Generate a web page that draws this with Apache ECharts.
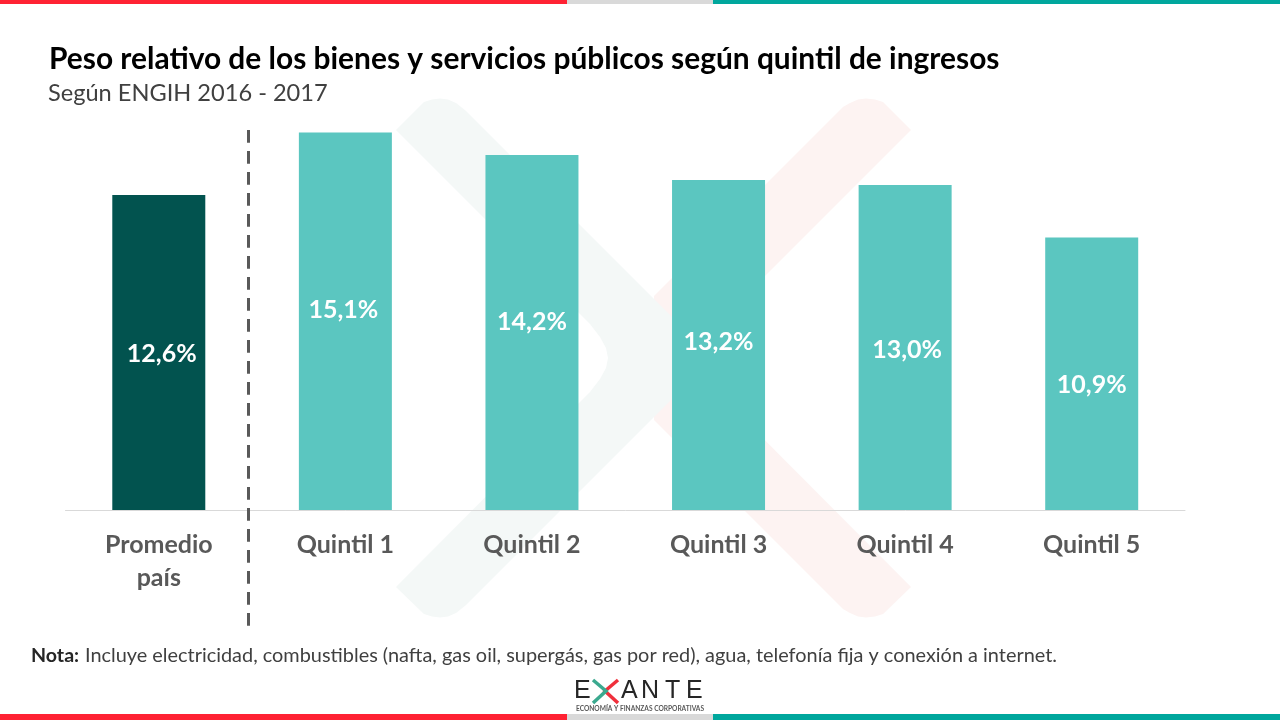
<!DOCTYPE html>
<html>
<head>
<meta charset="utf-8">
<style>html,body{margin:0;padding:0;background:#fff}#chart{width:1280px;height:720px}</style>
<script src="https://cdn.jsdelivr.net/npm/echarts@6/dist/echarts.min.js"></script>
</head>
<body>
<div id="chart"></div>
<script>
const categories = ["Promedio\npaís", "Quintil 1", "Quintil 2", "Quintil 3", "Quintil 4", "Quintil 5"]
const values = [12.6, 15.1, 14.2, 13.2, 13.0, 10.9]
const barColors = ["#02534F", "#5BC6C0", "#5BC6C0", "#5BC6C0", "#5BC6C0", "#5BC6C0"]
// las etiquetas no van centradas en el original
const labelShiftX = [3, -2, 0, 0, 2, 0]
const labelShiftY = [1, -11, -11, -3, 2, 11]

const font = "Lato"
const logoFont = "Liberation Sans"
const rect = (x, y, w, h, fill, z) => ({type: "rect", shape: {x, y, width: w, height: h}, style: {fill}, z})
const txt = (x, y, text, size, fill, weight, family) => ({
    type: "text", x, y, z: 10,
    style: {text, font: `${weight || "normal"} ${size}px ${family || font}`, fill, textAlign: "left", textVerticalAlign: "middle"}
})
const logoLetter = (x, text) => txt(x, 691, text, 25, "#262626", "normal", logoFont)
const chevron = (points, stroke) => ({type: "polyline", shape: {points}, style: {stroke, lineWidth: 3.5, fill: null}, z: 10})

// marca de agua
const tealMark = [[396,130],[424,102],[432,99.5],[440,98.5],[448,99.5],[456,103],[466,111],[713,358],[466,605],[456,613],[448,616.5],[440,617.5],[432,616.5],[424,614],[396,587],[590,392],[600,379],[606,368],[608,358],[606,348],[600,337],[590,324]]
const redMark = [[911,130],[683,358],[911,587],[883,614],[875,616.5],[866,617.5],[858,616.5],[850,613],[843,609],[654,420],[654,296],[843,107],[850,103],[858,99.5],[866,98.5],[875,99.5],[883,102]]

const chart = echarts.init(document.getElementById("chart"))
chart.setOption({
    animation: false,
    backgroundColor: "#fff",
    grid: {left: 65.5, right: 95, top: 110, bottom: 210},
    xAxis: {
        type: "category",
        data: categories,
        axisLine: {lineStyle: {color: "#D9D9D9", width: 1}},
        axisTick: {show: false},
        axisLabel: {color: "#595959", fontFamily: font, fontWeight: "bold", fontSize: 25, lineHeight: 33, margin: 18, interval: 0}
    },
    yAxis: {type: "value", min: 0, max: 16, show: false},
    series: [{
        type: "bar",
        barWidth: 93,
        data: values.map((v, i) => ({
            value: v,
            itemStyle: {color: barColors[i]},
            label: {offset: [labelShiftX[i], labelShiftY[i]]}
        })),
        label: {
            show: true,
            position: "inside",
            color: "#fff",
            fontFamily: font,
            fontWeight: "bold",
            fontSize: 25,
            formatter: p => p.value.toFixed(1).replace(".", ",") + "%"
        }
    }],
    graphic: {elements: [
        {type: "polygon", shape: {points: redMark}, style: {fill: "#FDF3F2"}, z: -2},
        {type: "polygon", shape: {points: tealMark}, style: {fill: "#F4F8F7"}, z: -1},
        rect(0, 0, 567, 4, "#FF2233", 5), rect(567, 0, 146, 4, "#D9D9D9", 5), rect(713, 0, 567, 4, "#00A79D", 5),
        rect(0, 714, 567, 6, "#FF2233", 5), rect(567, 714, 146, 6, "#D9D9D9", 5), rect(713, 714, 567, 6, "#00A79D", 5),
        txt(49, 59, "Peso relativo de los bienes y servicios públicos según quintil de ingresos", 29.9, "#000", "bold"),
        txt(48, 93, "Según ENGIH 2016 - 2017", 23.6, "#404040"),
        {type: "line", shape: {x1: 248.5, y1: 130, x2: 248.5, y2: 626}, style: {stroke: "#595959", lineWidth: 3, lineDash: [12.7, 8.3]}, z: 6},
        txt(31, 656, "Nota:", 19.6, "#262626", "bold"),
        txt(85, 656, "Incluye electricidad, combustibles (nafta, gas oil, supergás, gas por red), agua, telefonía fija y conexión a internet.", 19.9, "#404040"),
        // logo
        logoLetter(574, "E"),
        chevron([[618, 680], [605, 691], [618, 703]], "#F0303C"),
        chevron([[593, 680], [606, 691], [593, 703]], "#3BA98F"),
        logoLetter(621, "A"), logoLetter(641, "N"), logoLetter(665, "T"), logoLetter(686, "E"),
        txt(576, 709, "ECONOMÍA Y FINANZAS CORPORATIVAS", 6.6, "#595959", "bold")
    ]}
})
</script>
</body>
</html>
